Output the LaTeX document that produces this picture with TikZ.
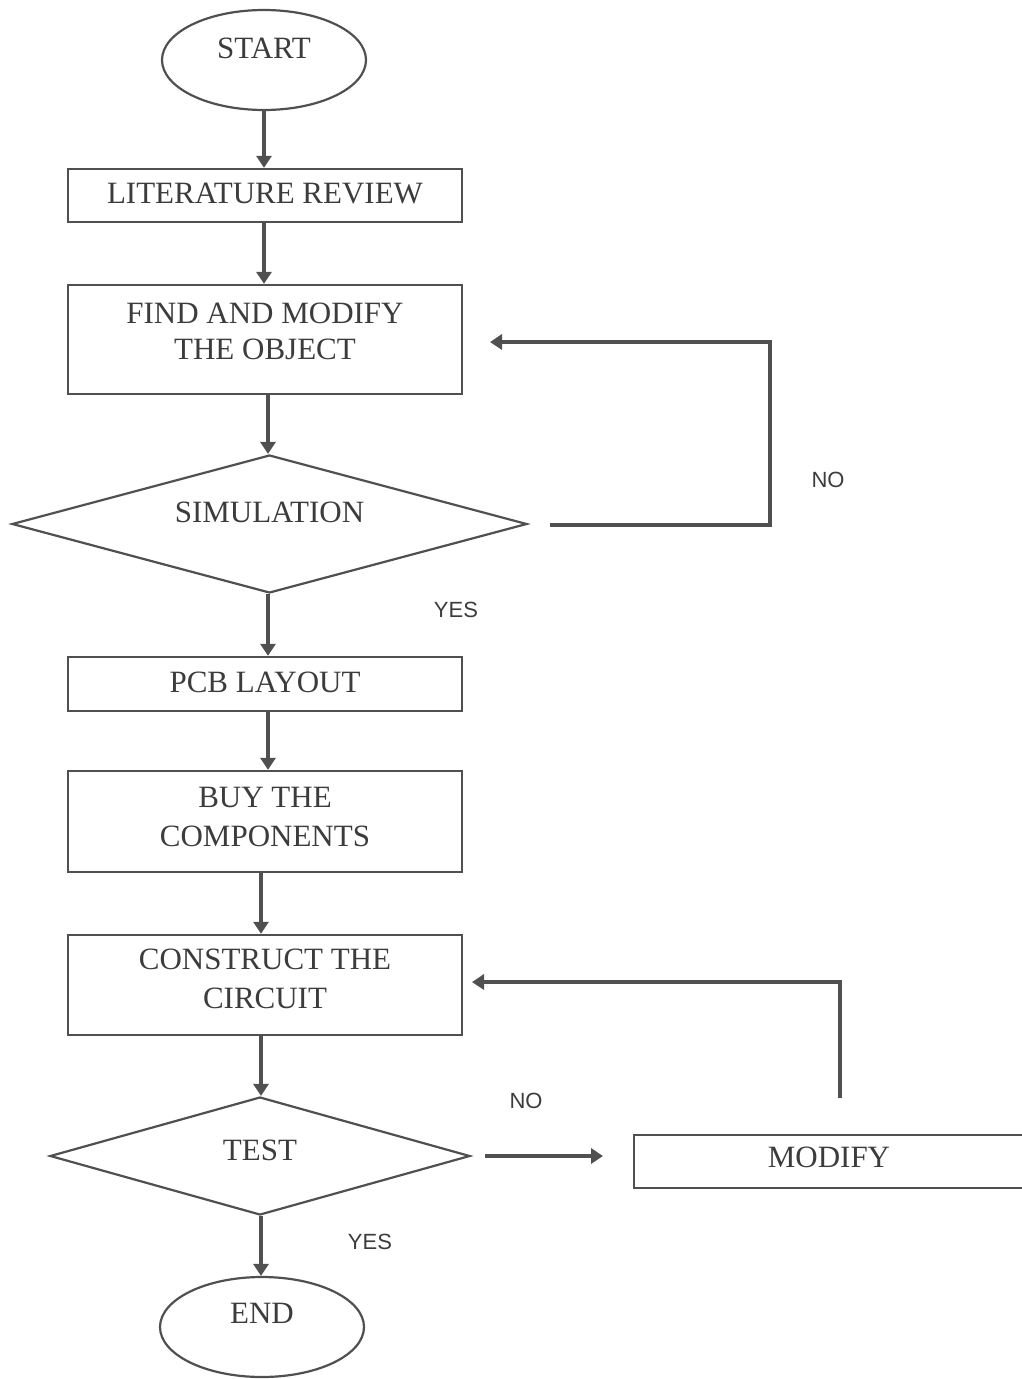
\documentclass[tikz,border=0pt]{standalone}
\usepackage{fontspec}
\setmainfont{Liberation Serif}
\newfontfamily\lsans{Liberation Sans}
\usetikzlibrary{shapes.geometric,arrows.meta}
\definecolor{ln}{HTML}{505050}
\definecolor{tx}{HTML}{3C3C3C}
\newcommand\tlines[3]{\raisebox{#1}[0pt][0pt]{\vtop{\baselineskip=#2\relax\lineskiplimit=-100pt\halign{\hfil##\hfil\cr#3\crcr}}}}
\begin{document}
\begin{tikzpicture}[x=1pt,y=-1pt,
  every node/.style={text=tx,font=\fontsize{31}{38}\selectfont},
  term/.style={draw=ln,line width=2.2pt,ellipse,minimum width=204pt,minimum height=100pt,inner sep=0pt},
  procbox/.style={draw=ln,line width=2.4pt,rectangle,minimum width=394pt,inner sep=0pt},
  decide/.style={draw=ln,line width=2.2pt,diamond,aspect=3.7,inner sep=0pt},
  lbl/.style={font=\lsans\fontsize{22}{26}\selectfont,text=tx},
  arr/.style={draw=ln,line width=4pt,-{Triangle[length=12pt,width=15pt]}}]
\useasboundingbox (0,0) rectangle (1021,1379);
\fill[white] (0,0) rectangle (1021,1379);

\node[term] (start) at (264,60) {\tlines{1.25pt}{38pt}{START}};
\node[procbox,minimum height=53pt] (lit) at (265,195.5) {\tlines{-8pt}{38pt}{LITERATURE REVIEW}};
\node[procbox,minimum height=109pt] (find) at (265,339.5) {\tlines{16.25pt}{36pt}{FIND AND MODIFY\cr THE OBJECT}};
\node[decide,minimum width=515pt,minimum height=138pt] (sim) at (269.5,524) {\tlines{1.25pt}{38pt}{SIMULATION}};
\node[procbox,minimum height=54pt] (pcb) at (265,684) {\tlines{-8.75pt}{38pt}{PCB LAYOUT}};
\node[procbox,minimum height=101pt] (buy) at (265,821.5) {\tlines{14.25pt}{39pt}{BUY THE\cr COMPONENTS}};
\node[procbox,minimum height=100pt] (cons) at (265,985) {\tlines{15.75pt}{39pt}{CONSTRUCT THE\cr CIRCUIT}};
\node[decide,minimum width=420pt,minimum height=118pt] (test) at (260,1156) {\tlines{-4.25pt}{38pt}{TEST}};
\node[procbox,minimum width=390pt,minimum height=53pt] (modify) at (829,1161.5) {\tlines{-6.25pt}{38pt}{MODIFY}};
\node[term] (end) at (262,1327) {\tlines{3.25pt}{38pt}{END}};

\node[lbl] (no1) at (828,480) {NO};
\node[lbl] (yes1) at (456,610) {YES};
\node[lbl] (no2) at (526,1101) {NO};
\node[lbl] (yes2) at (370,1242) {YES};

\coordinate (simout) at (550,525);
\coordinate (simret) at (490,342);
\coordinate (testout) at (485,1156);
\coordinate (modin) at (603,1156);
\coordinate (modup) at (840,1098);
\coordinate (consret) at (472,982);

\draw[arr] (start.south) -- (start.south |- lit.north);
\draw[arr] (lit.south -| start.south) -- (find.north -| start.south);
\draw[arr] (find.south -| 268,0) -- (sim.north -| 268,0);
\draw[arr] (sim.south -| 268,0) -- (pcb.north -| 268,0);
\draw[arr] (pcb.south -| 268,0) -- (buy.north -| 268,0);
\draw[arr] (buy.south -| 261,0) -- (cons.north -| 261,0);
\draw[arr] (cons.south -| 261,0) -- (test.north -| 261,0);
\draw[arr] (test.south -| 261,0) -- (end.north -| 261,0);

\draw[arr] (simout) -- (770,525) -- (770,342) -- (simret);
\draw[arr] (testout) -- (modin);
\draw[arr] (modup) -- (840,982) -- (consret);
\end{tikzpicture}
\end{document}
